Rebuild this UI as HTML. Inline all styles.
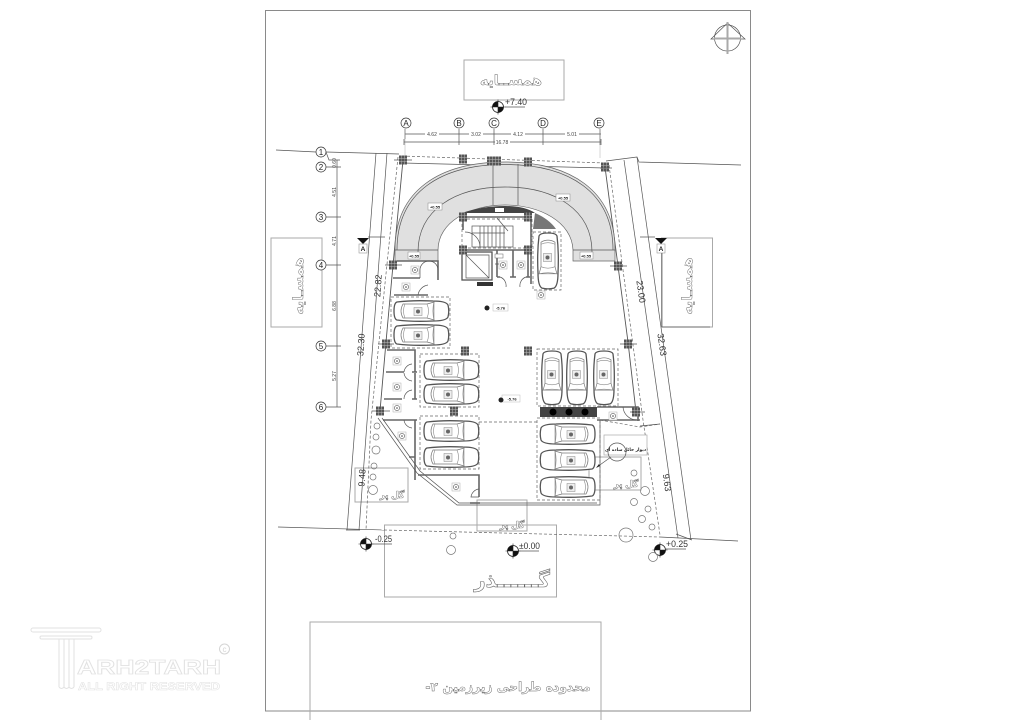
<!DOCTYPE html>
<html lang="en"><head><meta charset="utf-8"><title>Plan</title>
<style>
html,body{margin:0;padding:0;background:#fff;width:1018px;height:720px;overflow:hidden}
svg{display:block}
text{font-family:"Liberation Sans","DejaVu Sans",sans-serif}
.ar{font-family:"DejaVu Sans","Liberation Sans",sans-serif;direction:rtl}
.ol{fill:#fff;stroke:#666;stroke-width:.45;font-weight:bold}
.b{fill:none;stroke:#aaa;stroke-width:1}
.l{fill:none;stroke:#555;stroke-width:.7}
.d{fill:none;stroke:#666;stroke-width:.7;stroke-dasharray:3 2}
.w{fill:none;stroke:#666;stroke-width:1.6}
.t{fill:none;stroke:#777;stroke-width:.7}
.dim{font-size:5px;fill:#444;text-anchor:middle}
.v{font-size:9.5px;fill:#333}
.n{font-size:8px;fill:#222;text-anchor:middle;font-family:"Liberation Serif",serif}
.lab{font-size:4px;fill:#222;text-anchor:middle;font-weight:bold}
.wm{font-weight:bold;fill:#fff;stroke:#e2e2e2;stroke-width:.8}
</style></head><body>
<svg width="1018" height="720" viewBox="0 0 1018 720" xmlns="http://www.w3.org/2000/svg">
<defs>
<g id="car">
<path d="M4 2 Q20 0 40 1 Q53 1 55 5 Q56.500 11 55 17 Q53 21 40 21 Q20 22 4 20 Q1 19 1 11 Q1 3 4 2Z" fill="#fff" stroke="#555" stroke-width="1.300"/>
<path d="M10 4 Q6 11 10 18 L34 18 Q38 19 41 20 Q39 11 41 2 Q38 3 34 4Z" fill="#fff" stroke="#777" stroke-width=".7"/>
<path d="M34 4 Q37 11 34 18M12 4 Q9 11 12 18M41 2 L41 20" fill="none" stroke="#888" stroke-width=".6"/>
<rect x="21" y="7.500" width="8" height="8" fill="#eee" stroke="#888" stroke-width=".5"/>
<circle cx="25" cy="11.500" r="2" fill="#666"/>
</g>
<g id="col"><rect x="-4" y="-4.500" width="8" height="9" fill="#555"/><path d="M-4 -1.500H4M-4 1.500H4M-1.300 -4.500V4.500M1.300 -4.500V4.500" stroke="#bbb" stroke-width=".5"/></g>
<g id="lv"><circle r="5.500" fill="#fff" stroke="#222" stroke-width=".8"/><path d="M0 0V-5.500A5.500 5.500 0 0 0 -5.500 0ZM0 0V5.500A5.500 5.500 0 0 0 5.500 0Z" fill="#111"/><path d="M-7.500 0H7.500M0 -7.500V7.500" stroke="#222" stroke-width=".6"/></g>
<g id="rl"><rect x="-4" y="-4" width="8" height="8" fill="#fff" stroke="#aaa" stroke-width=".5"/><circle r="2.600" fill="#fff" stroke="#555" stroke-width=".6"/><circle r=".8" fill="#444"/></g>
<g id="mk"><path d="M-6 -6H6L0 0Z" fill="#111"/><rect x="-4" y="0" width="8" height="9" fill="#fff" stroke="#999" stroke-width=".6"/><text y="7" class="lab" style="font-size:6.500px">A</text></g>
</defs>
<rect width="1018" height="720" fill="#fff"/>
<rect x="265.500" y="10.500" width="485" height="700.500" fill="none" stroke="#8a8a8a" stroke-width="1"/>

<!-- north -->
<circle cx="727.500" cy="38" r="13" class="l"/>
<path d="M727.500 23 L711 39 H745 Z" class="l"/>
<path d="M727.500 22V54M714 38.500H741" fill="none" stroke="#aaa" stroke-width="2"/>

<!-- neighbour boxes -->
<rect x="464" y="60" width="100" height="40" class="b"/>
<text x="511" y="85" text-anchor="middle" class="ar ol" style="font-size:14px">همســایه</text>
<rect x="271" y="238" width="51" height="89" class="b"/>
<text transform="translate(303,286) rotate(-90)" text-anchor="middle" class="ar ol" style="font-size:14px">همسـایه</text>
<rect x="661.500" y="238" width="51" height="89" class="b"/>
<text transform="translate(692,286) rotate(-90)" text-anchor="middle" class="ar ol" style="font-size:14px">همسـایه</text>
<rect x="384.500" y="525" width="172" height="72" class="b"/>
<rect x="310" y="622" width="291" height="100" class="b"/>
<rect x="355" y="468" width="53" height="34" class="b"/>
<rect x="589" y="457" width="52" height="33" class="b"/>
<rect x="477" y="500" width="50" height="31" class="b"/>

<!-- grid dims top -->
<g class="l">
<path d="M405 134H601M404 142H601M405 129V139M459 129V145M494 129V145M543 129V145M600 129V145M404 139V145M601 139V145"/>
<path d="M405 128V158M600 128V158" stroke="#999" stroke-width=".4"/>
</g>
<g fill="#fff" stroke="#333" stroke-width=".7">
<circle cx="406" cy="123" r="5"/><circle cx="459" cy="123" r="5"/><circle cx="494" cy="123" r="5"/><circle cx="543" cy="123" r="5"/><circle cx="599" cy="123" r="5"/>
<circle cx="321" cy="152" r="5"/><circle cx="321" cy="167" r="5"/><circle cx="321" cy="217" r="5"/><circle cx="321" cy="265" r="5"/><circle cx="321" cy="346" r="5"/><circle cx="321" cy="407" r="5"/>
</g>
<g class="n">
<text x="406" y="126">A</text><text x="459" y="126">B</text><text x="494" y="126">C</text><text x="543" y="126">D</text><text x="599" y="126">E</text>
<text x="321" y="155">1</text><text x="321" y="170">2</text><text x="321" y="220">3</text><text x="321" y="268">4</text><text x="321" y="349">5</text><text x="321" y="410">6</text>
</g>
<g>
<rect x="425" y="131" width="14" height="6" fill="#fff"/><rect x="469" y="131" width="14" height="6" fill="#fff"/><rect x="511" y="131" width="14" height="6" fill="#fff"/><rect x="565" y="131" width="14" height="6" fill="#fff"/><rect x="495" y="139" width="15" height="6" fill="#fff"/>
</g>
<g class="dim"><text x="432" y="136">4.62</text><text x="476" y="136">3.02</text><text x="518" y="136">4.12</text><text x="572" y="136">5.01</text><text x="502" y="144">16.78</text></g>
<path d="M337 160V407M326 152 L329 160H340M326 167H341M326 217H341M326 265H341M326 346H341M326 407H341" class="l"/>
<g class="dim">
<text transform="translate(336,163) rotate(-90)">0.60</text>
<text transform="translate(336,192) rotate(-90)">4.51</text>
<text transform="translate(336,241) rotate(-90)">4.71</text>
<text transform="translate(336,306) rotate(-90)">6.88</text>
<text transform="translate(336,376) rotate(-90)">5.27</text>
</g>

<!-- boundaries -->
<path d="M276 150 L316 152M326 152 L399 154 M606 161 L637 157 L639 162 L741 165" class="l"/>
<path d="M278 527 L384 530" class="l"/><path d="M384 530 L660 537" class="d"/><path d="M660 537 L738 541" class="l"/>
<path d="M376 153 L347 530M387 153 L359 530M624 160 L678 538M637 157 L691 540" class="l"/>
<path d="M346 530 H360 M676 534 L692 540" class="l"/>
<path d="M398 157 L371 420 L366 530M609 165 L643 420 L660 535" class="d"/>
<path d="M402 156 L605 163" class="d"/>
<path d="M403 163 L605 168" class="l"/>
<path d="M403 160 L393 265 L386 342 L380 411M605 167 L618 266 L628 342 L636 412" fill="none" stroke="#555" stroke-width=".9"/>
<path d="M600 420 L640 427 L660 424M479 422 H537" class="d"/>
<path d="M640 426 L660 424" class="l"/>

<!-- arcs -->
<path d="M395 261 V250 C395 190,440 162,505 162 C570 162,615 190,615 250 V261 H573 V250 C572 222,540 205,505 205 C470 205,438 222,438 250 V261Z" fill="#e0e0e0" stroke="#666" stroke-width=".7"/>
<path d="M397 250 C397 192,441 164.500,505 164.500 C569 164.500,613 192,613 250" class="l" stroke-width=".5"/>
<path d="M418 252 C418 210,455 187,505 187 C555 187,592 210,592 252" class="l"/>
<path d="M395 250H438M573 250H615M493 164V205M518 164V205" class="l"/>
<path d="M462 213 Q482 206 505 206 Q525 206 535 213 H465Z" fill="#444"/>
<path d="M535 213 Q549 219 556 229 H533Z" fill="#777"/>
<rect x="495" y="208" width="9" height="4" fill="#fff"/>

<!-- stairs / core -->
<rect x="462" y="219" width="70" height="29" class="d"/>
<rect x="472" y="226" width="41" height="21" class="l"/>
<path d="M480 226V247M484 226V247M488 226V247M492 226V247M496 226V247M500 226V247M504 226V247M472 233H505M497 218 L508 231" class="l"/>
<path d="M465 232 A15 15 0 0 1 480 247" class="l"/>
<path d="M463 217H528M463 250H530" class="w"/>
<path d="M463 216V230M531 218V284" class="w"/>
<rect x="462" y="252" width="30" height="28" fill="#fff" stroke="#555" stroke-width="1.300"/>
<path d="M466 255H489V278H466ZM466 255 L489 278" class="l"/>
<rect x="477" y="282" width="16" height="4" fill="#333"/>
<path d="M497 250V277M513 250V277M528 250V277M497 277H500M510 277H516M526 277H530" class="w"/>
<path d="M500 277 A9 9 0 0 1 506 287M526 277 A9 9 0 0 0 520 287M495 264H499" class="l"/>
<rect x="495" y="254" width="8" height="4" fill="#fff" stroke="#666" stroke-width=".5"/>
<use href="#rl" x="503" y="265"/><use href="#rl" x="521" y="265"/>
<rect x="533" y="232" width="28" height="58" class="d"/>
<use href="#car" transform="translate(559,232) rotate(90) scale(1.020,1)"/>
<use href="#rl" x="541" y="295"/>

<!-- left rooms -->
<path d="M397 261H438V280M393 278H420M394 295H428" class="w"/>
<path d="M420 278 V270 A8 8 0 0 1 438 270M418 295 A12 12 0 0 1 428 285" class="l"/>
<use href="#rl" x="415" y="270"/><use href="#rl" x="406" y="287"/>
<rect x="391" y="297" width="59" height="51" class="d"/>
<use href="#car" x="393" y="300"/><use href="#car" x="393" y="324"/>
<path d="M387 350H415V372M386 372H404M412 372H417M384 399H402M412 399H417M383 420H417M415 399V373M415 420V480" class="w" stroke-width="1.200"/>
<path d="M404 372 A9 9 0 0 1 412 364M404 373 A9 9 0 0 0 412 381M404 399 A9 9 0 0 1 412 390M404 420 A9 9 0 0 0 412 428" class="l"/>
<use href="#rl" x="397" y="361"/><use href="#rl" x="397" y="387"/><use href="#rl" x="397" y="408"/><use href="#rl" x="402" y="436"/>
<rect x="420" y="354" width="59" height="53" class="d"/>
<use href="#car" x="423" y="359"/><use href="#car" x="423" y="383"/>
<rect x="420" y="416" width="59" height="53" class="d"/>
<use href="#car" x="423" y="420"/><use href="#car" x="423" y="446"/>

<!-- angular edge -->
<path d="M378 418 L417 473 L457 505 H600V420M382 418 L420 471 L459 503 H597" class="l" stroke-width=".9"/>
<path d="M418 475H479V497M409 457H415" class="w" stroke-width="1.200"/>
<path d="M479 497 H471 A9 9 0 0 1 479 489" class="l"/>
<path d="M470 503H480" class="w"/>
<use href="#rl" x="456" y="487"/>

<!-- right cars -->
<rect x="537" y="349" width="81" height="57" class="d"/>
<g>
<use href="#car" transform="translate(563,350) rotate(90) scale(.98,1)"/>
<use href="#car" transform="translate(588,350) rotate(90) scale(.98,1)"/>
<use href="#car" transform="translate(615,350) rotate(90) scale(.98,1)"/>
</g>
<rect x="540" y="407" width="57" height="10" fill="#444"/>
<circle cx="553" cy="412" r="3.500" fill="#000"/><circle cx="569" cy="412" r="3.500" fill="#000"/><circle cx="585" cy="412" r="3.500" fill="#000"/>
<path d="M597 407H638V421M597 420H640" class="w" stroke-width="1.200"/>
<path d="M623 407 A14 14 0 0 0 636 420" class="l"/>
<use href="#rl" x="613" y="416"/>
<rect x="537" y="418" width="63" height="82" class="d"/>
<use href="#car" transform="translate(596,423) scale(-1,1)"/>
<use href="#car" transform="translate(596,449) scale(-1,1)"/>
<use href="#car" transform="translate(596,476) scale(-1,1)"/>

<!-- columns -->
<use href="#col" x="403" y="160"/><use href="#col" x="463" y="159"/><use href="#col" x="491" y="161"/><use href="#col" x="497" y="161"/><use href="#col" x="528" y="162"/><use href="#col" x="605" y="167"/>
<use href="#col" x="463" y="217"/><use href="#col" x="528" y="217"/><use href="#col" x="463" y="250"/><use href="#col" x="528" y="250"/>
<use href="#col" x="393" y="265"/><use href="#col" x="618" y="266"/><use href="#col" x="386" y="344"/><use href="#col" x="628" y="344"/>
<use href="#col" x="380" y="411"/><use href="#col" x="454" y="411"/><use href="#col" x="636" y="412"/><use href="#col" x="528" y="351"/><use href="#col" x="465" y="351"/>
<path d="M394 160H412M600 168H612M385 265H402M610 266H627M378 344H394M620 344H637M372 411H390M630 412H645" class="l" stroke-width=".5"/>

<!-- small labels -->
<g>
<rect x="428" y="203" width="14" height="7" fill="#fff" stroke="#888" stroke-width=".5"/><text x="435" y="208.500" class="lab">+0.55</text>
<rect x="556" y="194" width="14" height="7" fill="#fff" stroke="#888" stroke-width=".5"/><text x="563" y="199.500" class="lab">+0.55</text>
<rect x="408" y="252" width="12" height="7" fill="#fff" stroke="#888" stroke-width=".5"/><text x="414" y="257.500" class="lab">+0.55</text>
<rect x="580" y="252" width="13" height="7" fill="#fff" stroke="#888" stroke-width=".5"/><text x="586" y="257.500" class="lab">+0.55</text>
<rect x="493" y="304" width="15" height="7" fill="#fff" stroke="#bbb" stroke-width=".5"/><text x="500.500" y="309.500" class="lab">-5.76</text>
<rect x="502" y="395" width="18" height="7" fill="#fff" stroke="#bbb" stroke-width=".5"/><text x="512" y="400.500" class="lab">-5.76</text>
<circle cx="487" cy="308" r="2.500" fill="#222"/><circle cx="501" cy="400" r="2.500" fill="#222"/>
</g>

<!-- section markers -->
<use href="#mk" x="363" y="244"/><use href="#mk" x="661" y="244"/>
<path d="M368 237H385M640 237H655M662 253V327M662 327H710" class="l" stroke="#999"/>

<!-- rotated dims -->
<g style="font-size:9px;fill:#333;font-family:'Liberation Serif',serif" text-anchor="middle">
<text transform="translate(381,286) rotate(-86)">22.82</text>
<text transform="translate(364,345) rotate(-86)">32.30</text>
<text transform="translate(365,478) rotate(-86)">9.48</text>
<text transform="translate(638,292) rotate(82)">23.00</text>
<text transform="translate(659,345) rotate(82)">32.63</text>
<text transform="translate(664,483) rotate(82)">9.63</text>
</g>

<!-- levels -->
<use href="#lv" x="498" y="107"/><path d="M505 107H525" class="l"/><text x="505" y="105" class="v" textLength="22" lengthAdjust="spacingAndGlyphs">+7.40</text>
<use href="#lv" x="366" y="544"/><path d="M372 544H392" class="l"/><text x="375" y="542" class="v" textLength="17" lengthAdjust="spacingAndGlyphs">-0.25</text>
<use href="#lv" x="513" y="551"/><path d="M519 551H539" class="l"/><text x="519" y="549" class="v" textLength="21" lengthAdjust="spacingAndGlyphs">±0.00</text>
<use href="#lv" x="660" y="550"/><path d="M666 549H686" class="l"/><text x="666" y="547" class="v" textLength="22" lengthAdjust="spacingAndGlyphs">+0.25</text>

<!-- trees -->
<g class="t">
<circle cx="377" cy="426" r="3"/><circle cx="376" cy="437" r="3"/><circle cx="376" cy="450" r="4"/><circle cx="374" cy="466" r="3"/><circle cx="373" cy="477" r="3"/><circle cx="373" cy="490" r="4.500"/>
<circle cx="637" cy="440" r="4.500"/><circle cx="634" cy="473" r="3"/><circle cx="645" cy="491" r="4.500"/><circle cx="634" cy="502" r="3.500"/><circle cx="648" cy="509" r="3"/><circle cx="642" cy="519" r="3.500"/><circle cx="652" cy="527" r="3"/><circle cx="626" cy="535" r="7"/><circle cx="653" cy="557" r="4.500"/>
<circle cx="453" cy="536" r="3"/><circle cx="451" cy="550" r="4.500"/>
</g>

<!-- callout -->
<rect x="604" y="435" width="43" height="20" fill="#fff" stroke="#aaa" stroke-width=".7"/>
<circle cx="617" cy="452" r="9" class="l"/>
<text x="625.500" y="451" text-anchor="middle" class="ar" style="font-size:4.300px;font-weight:bold;fill:#222">دیوار حائل ساده ای</text>
<path d="M611 457 L597 467" class="l"/><path d="M596 468 L599 464 L600 466Z" fill="#222"/>

<!-- outlined labels -->
<g class="ar" style="font-size:9px;font-weight:bold;fill:#fff;stroke:#444;stroke-width:.35" text-anchor="middle">
<text x="392" y="498">گل پر</text>
<text x="626" y="487">گل پر</text>
<text x="512" y="528">گل پر</text>
</g>
<text x="512" y="587" text-anchor="middle" class="ar ol" style="font-size:20px;stroke-width:.6">گــــــذر</text>
<text x="508" y="691" text-anchor="middle" class="ar ol" style="font-size:12.300px">محدوده طراحی زیرزمین ۲-</text>

<!-- watermark -->
<g fill="#fff" stroke="#e2e2e2" stroke-width="1">
<rect x="31" y="628" width="70" height="4" rx="2"/>
<rect x="40" y="636" width="52" height="3" rx="1.500"/>
<path d="M59 639V687M64 639V687M69 639V687M74 639V687"/>
<path d="M59 687 Q61.500 690 64 687 Q66.500 690 69 687 Q71.500 690 74 687" fill="none"/>
</g>
<text x="77" y="674" class="wm" textLength="144" lengthAdjust="spacingAndGlyphs" style="font-size:20px">ARH2TARH</text>
<text x="78" y="690" class="wm" textLength="142" lengthAdjust="spacingAndGlyphs" style="font-size:11px;stroke-width:.5">ALL RIGHT RESERVED</text>
<circle cx="224.500" cy="649" r="5" fill="#fff" stroke="#d5d5d5"/><text x="224.500" y="652" text-anchor="middle" style="font-size:8px;fill:#d5d5d5">c</text>
</svg>
</body></html>
